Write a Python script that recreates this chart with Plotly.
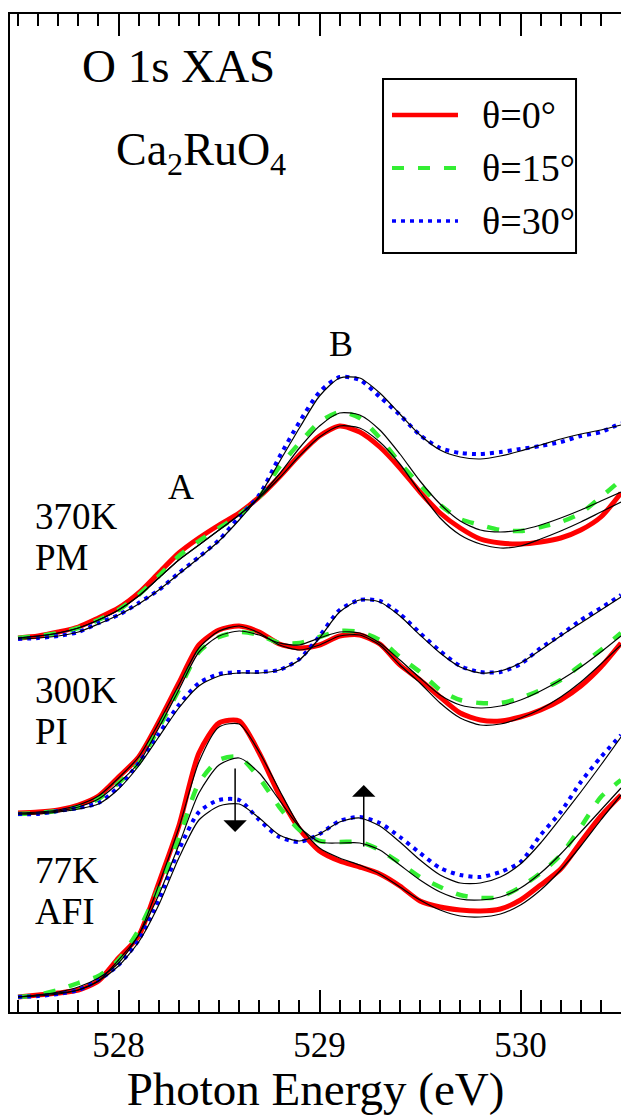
import plotly.graph_objects as go

# Photon energy grid (eV)
energy = [527.5, 527.6, 527.7, 527.8, 527.9, 528.0, 528.1, 528.2, 528.3, 528.4,
          528.5, 528.6, 528.7, 528.8, 528.9, 529.0, 529.1, 529.2, 529.3, 529.4,
          529.5, 529.6, 529.7, 529.8, 529.9, 530.0, 530.1, 530.2, 530.3, 530.4,
          530.5]

# 370 K (PM) spectra, offset for display (arb. units)
pm_0 = [37.7, 37.9, 38.3, 38.8, 39.7, 40.7, 42.2, 44.2, 46.2, 47.7, 49.0, 50.2, 51.8, 53.8, 56.0, 57.9,
        58.9, 58.3, 56.8, 54.7, 52.3, 50.2, 48.7, 47.6, 47.2, 47.1, 47.3, 47.7, 48.5, 49.8, 52.2]
pm_15 = [37.7, 37.9, 38.2, 38.7, 39.5, 40.5, 42.0, 43.9, 45.9, 47.4, 48.7, 50.0, 51.8, 54.8, 57.2, 59.3,
         60.3, 59.7, 57.7, 55.2, 53.0, 51.0, 49.6, 49.0, 48.5, 48.4, 48.8, 49.3, 50.2, 51.8, 53.5]
pm_30 = [37.6, 37.7, 37.9, 38.3, 39.2, 40.0, 41.2, 42.5, 44.2, 45.8, 47.5, 49.8, 52.0, 55.8, 59.3, 62.3,
         63.8, 63.5, 61.8, 60.0, 58.0, 56.7, 56.2, 56.1, 56.3, 56.6, 56.9, 57.3, 57.9, 58.3, 59.2]
pm_fit_0 = [37.7, 37.9, 38.2, 38.7, 39.5, 40.5, 41.9, 43.7, 45.5, 47.0, 48.5, 50.0, 51.7, 53.7, 55.9, 57.8,
            58.9, 58.7, 57.3, 55.1, 52.3, 49.7, 48.0, 47.1, 46.7, 46.9, 47.6, 48.4, 49.3, 50.3, 51.3]
pm_fit_15 = [37.7, 37.9, 38.2, 38.7, 39.5, 40.5, 41.9, 43.7, 45.5, 47.0, 48.5, 50.0, 51.8, 54.1, 56.7, 58.9,
             60.2, 60.0, 58.5, 56.1, 53.4, 51.1, 49.4, 48.5, 48.3, 48.5, 49.0, 49.7, 50.5, 51.4, 52.3]
pm_fit_30 = [37.6, 37.7, 37.9, 38.3, 39.1, 40.0, 41.1, 42.5, 44.1, 45.7, 47.4, 49.5, 51.9, 55.3, 58.7, 61.9,
             63.7, 63.7, 62.2, 60.1, 58.0, 56.5, 55.8, 55.6, 55.9, 56.4, 57.0, 57.6, 58.1, 58.5, 59.0]

# 300 K (PI) spectra
pi_0 = [20.2, 20.3, 20.5, 21.0, 21.9, 23.8, 25.8, 29.3, 33.2, 37.0, 38.5, 38.9, 38.3, 37.1, 36.7, 37.0,
        37.9, 38.0, 37.1, 35.0, 33.5, 31.8, 30.2, 29.5, 29.4, 29.8, 30.5, 31.5, 32.9, 34.8, 37.2]
pi_15 = [20.1, 20.2, 20.4, 20.8, 21.6, 23.2, 25.2, 28.7, 32.5, 36.3, 37.8, 38.3, 38.0, 37.2, 37.2, 37.8,
         38.4, 38.3, 37.5, 35.8, 34.3, 32.5, 31.5, 31.2, 31.2, 31.7, 32.5, 33.5, 35.0, 36.5, 38.2]
pi_30 = [20.1, 20.1, 20.4, 20.7, 21.2, 22.8, 25.2, 28.1, 31.0, 33.2, 34.1, 34.3, 34.3, 34.5, 35.6, 37.9,
         40.5, 41.5, 41.4, 40.1, 38.2, 36.4, 34.9, 34.3, 34.3, 35.1, 36.7, 38.0, 39.5, 40.7, 42.0]
pi_fit_0 = [20.2, 20.3, 20.5, 21.0, 21.9, 23.7, 25.8, 29.2, 33.0, 36.7, 38.4, 38.9, 38.2, 37.0, 36.5, 37.0,
            37.9, 38.0, 37.0, 35.0, 33.2, 31.2, 29.7, 29.0, 29.1, 29.7, 30.6, 31.8, 33.3, 35.1, 37.0]
pi_fit_15 = [20.1, 20.2, 20.4, 20.8, 21.6, 23.2, 25.2, 28.7, 32.5, 36.3, 37.9, 38.4, 38.0, 37.2, 37.0, 37.7,
             38.3, 38.2, 37.2, 35.5, 33.7, 32.0, 31.0, 30.7, 30.9, 31.5, 32.4, 33.5, 34.8, 36.3, 37.9]
pi_fit_30 = [20.1, 20.1, 20.3, 20.6, 21.1, 22.6, 24.9, 27.8, 30.7, 32.9, 33.9, 34.2, 34.2, 34.5, 35.5, 37.7,
             40.3, 41.5, 41.3, 39.9, 38.0, 36.2, 34.8, 34.2, 34.4, 35.2, 36.5, 37.9, 39.2, 40.5, 41.8]

# 77 K (AFI) spectra
afi_0 = [1.8, 2.0, 2.2, 2.5, 3.4, 5.7, 7.9, 13.2, 18.9, 26.2, 29.2, 29.4, 26.2, 22.0, 18.6, 16.4,
         15.4, 14.8, 14.1, 12.9, 11.4, 10.8, 10.5, 10.4, 10.6, 11.5, 13.0, 14.6, 17.3, 19.9, 22.0]
afi_15 = [1.8, 2.0, 2.5, 3.2, 3.9, 5.5, 8.5, 12.7, 17.7, 23.2, 25.5, 25.8, 23.7, 20.8, 18.5, 17.4,
          17.3, 17.3, 16.5, 15.2, 13.8, 12.8, 12.0, 11.7, 11.8, 12.8, 14.2, 16.0, 18.8, 21.8, 23.5]
afi_30 = [1.8, 1.9, 2.1, 2.5, 3.5, 5.0, 7.5, 11.5, 16.5, 20.3, 21.5, 21.5, 19.5, 17.8, 17.3, 18.1,
          19.4, 19.8, 19.2, 17.8, 16.2, 14.7, 14.0, 13.8, 14.3, 15.3, 18.0, 20.3, 23.3, 25.8, 28.0]
afi_fit_0 = [1.8, 2.0, 2.2, 2.5, 3.4, 5.5, 8.0, 13.0, 18.7, 25.3, 28.8, 29.1, 26.3, 22.5, 18.9, 16.7,
             15.7, 15.0, 14.1, 12.8, 11.5, 10.5, 9.9, 9.8, 10.1, 11.0, 12.5, 14.5, 16.9, 19.5, 22.0]
afi_fit_15 = [1.8, 2.0, 2.3, 2.8, 3.7, 5.2, 8.0, 12.0, 17.0, 22.2, 25.0, 25.7, 24.2, 21.5, 18.8, 17.3,
              17.2, 17.2, 16.5, 15.0, 13.5, 12.3, 11.6, 11.5, 11.8, 12.7, 14.2, 16.1, 18.3, 20.5, 22.7]
afi_fit_30 = [1.8, 1.9, 2.1, 2.5, 3.4, 4.9, 7.3, 11.0, 15.7, 19.5, 20.9, 21.1, 19.7, 18.0, 17.4, 18.1,
              19.3, 19.7, 18.9, 17.3, 15.5, 14.0, 13.2, 13.2, 13.8, 15.1, 17.2, 19.7, 22.3, 25.0, 27.8]

angle_labels = ["θ=0°", "θ=15°", "θ=30°"]
phase_labels = [("370K", "PM"), ("300K", "PI"), ("77K", "AFI")]
phase_label_y = [(49.9, 45.8), (32.5, 28.4), (14.5, 10.4)]
tick_values = [528, 529, 530]
tick_text = ["528", "529", "530"]

# Spectral-weight changes at 77 K: peak A drops, peak B grows with θ
arrow_down = dict(x=528.58, y_from=24.8, y_to=18.3)
arrow_up = dict(x=529.22, y_from=16.7, y_to=23.0)

SERIF = "Liberation Serif"
styles = [
    dict(color="#ff0000", width=5, dash="solid"),
    dict(color="#33ee33", width=4.5, dash="12px,14px"),
    dict(color="#0000ff", width=4, dash="4px,5px"),
]

groups = [
    ([pm_0, pm_15, pm_30], [pm_fit_0, pm_fit_15, pm_fit_30]),
    ([pi_0, pi_15, pi_30], [pi_fit_0, pi_fit_15, pi_fit_30]),
    ([afi_0, afi_15, afi_30], [afi_fit_0, afi_fit_15, afi_fit_30]),
]

fig = go.Figure()

# measured spectra
for (spectra, _), (temp, _phase) in zip(groups, phase_labels):
    for spec, style, name in zip(spectra, styles, angle_labels):
        fig.add_trace(go.Scatter(
            x=energy, y=spec, mode="lines", name=f"{temp} {name}",
            line=dict(color=style["color"], width=style["width"], dash=style["dash"],
                      shape="spline", smoothing=0.7),
            showlegend=False))

# model curves drawn on top as thin black lines
for (_, fits) in groups:
    for fit in fits:
        fig.add_trace(go.Scatter(
            x=energy, y=fit, mode="lines", showlegend=False,
            line=dict(color="black", width=1.2, shape="spline", smoothing=0.7)))

annotations = []
for (top, bottom), (y1, y2) in zip(phase_labels, phase_label_y):
    for txt, yy in ((top, y1), (bottom, y2)):
        annotations.append(dict(x=527.575, y=yy, xref="x", yref="y", text=txt,
                                showarrow=False, xanchor="left", yanchor="middle",
                                font=dict(family=SERIF, size=37, color="black")))

annotations += [
    dict(x=528.31, y=52.8, xref="x", yref="y", text="A", showarrow=False,
         font=dict(family=SERIF, size=36, color="black")),
    dict(x=529.105, y=67.1, xref="x", yref="y", text="B", showarrow=False,
         font=dict(family=SERIF, size=36, color="black")),
    dict(x=528.3, y=94.9, xref="x", yref="y", text="O 1s XAS", showarrow=False,
         font=dict(family=SERIF, size=47, color="black")),
    dict(x=527.975, y=86.2, xref="x", yref="y", text="Ca<sub>2</sub>RuO<sub>4</sub>",
         showarrow=False, xanchor="left",
         font=dict(family=SERIF, size=46, color="black")),
]

for arr in (arrow_down, arrow_up):
    annotations.append(dict(x=arr["x"], y=arr["y_to"], ax=arr["x"], ay=arr["y_from"],
                            xref="x", yref="y", axref="x", ayref="y", text="",
                            showarrow=True, arrowhead=1, arrowsize=2.6, arrowwidth=1.5,
                            arrowcolor="black", standoff=0))

# legend box drawn in paper coordinates
shapes = [dict(type="rect", xref="paper", yref="paper", x0=0.6105, x1=0.9264,
               y0=0.7605, y1=0.9349, line=dict(color="black", width=2),
               fillcolor="white")]
legend_rows = [0.8988, 0.8457, 0.7926]
for yy, style, name in zip(legend_rows, styles, angle_labels):
    shapes.append(dict(type="line", xref="paper", yref="paper", x0=0.6252, x1=0.7332,
                       y0=yy, y1=yy,
                       line=dict(color=style["color"], width=style["width"] - 0.5,
                                 dash=style["dash"])))
    annotations.append(dict(x=0.7692, y=yy, xref="paper", yref="paper", text=name,
                            showarrow=False, xanchor="left", yanchor="middle",
                            font=dict(family=SERIF, size=38, color="black")))

fig.update_layout(
    width=625, height=1115,
    margin=dict(l=10, r=4, t=14, b=103),
    paper_bgcolor="white", plot_bgcolor="white",
    showlegend=False,
    shapes=shapes,
    annotations=annotations,
    xaxis=dict(
        range=[527.46, 530.5],
        tickvals=tick_values, ticktext=tick_text,
        ticks="inside", ticklen=22, tickwidth=1.5, tickcolor="black",
        minor=dict(dtick=0.1, tick0=528, ticks="inside", ticklen=12, tickwidth=1.5,
                   tickcolor="black", showgrid=False),
        showline=True, linecolor="black", linewidth=2, mirror="ticks",
        showgrid=False, zeroline=False,
        tickfont=dict(family=SERIF, size=35, color="black"),
        ticklabelstandoff=1,
        title=dict(text="Photon Energy (eV)", standoff=14,
                   font=dict(family=SERIF, size=47, color="black")),
    ),
    yaxis=dict(
        range=[0.3, 100.1],
        showticklabels=False, ticks="",
        showline=True, linecolor="black", linewidth=2, mirror=False,
        showgrid=False, zeroline=False,
    ),
)

fig.write_html("out.html")
